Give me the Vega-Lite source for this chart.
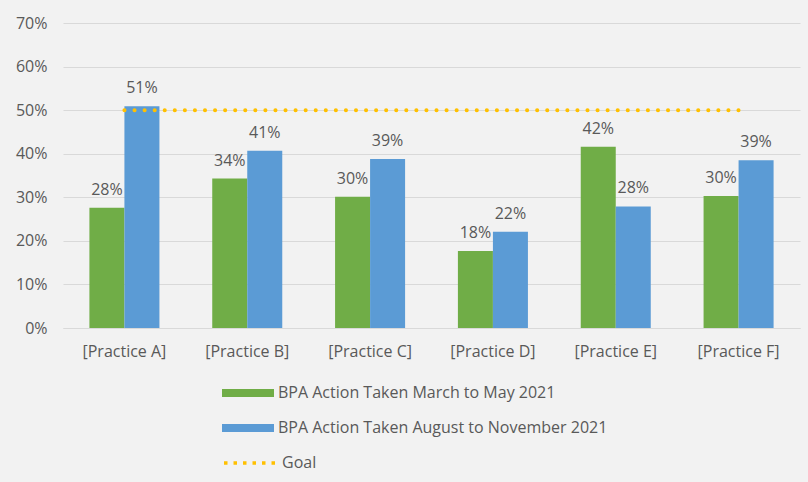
{
  "$schema": "https://vega.github.io/schema/vega-lite/v6.json",
  "width": 737,
  "height": 305,
  "autosize": {"type": "none"},
  "padding": {"left": 63, "top": 23, "right": 8, "bottom": 154},
  "background": "#F2F2F2",
  "config": {
    "view": {"stroke": null},
    "font": "Open Sans",
    "axis": {"labelColor": "#595959", "labelFont": "Open Sans", "labelFontSize": 16},
    "legend": {"labelColor": "#595959", "labelFont": "Open Sans", "labelFontSize": 16, "labelLimit": 500}
  },
  "datasets": {
    "bars": [
      {"practice": "[Practice A]", "series": "BPA Action Taken March to May 2021", "value": 0.276},
      {"practice": "[Practice A]", "series": "BPA Action Taken August to November 2021", "value": 0.509},
      {"practice": "[Practice B]", "series": "BPA Action Taken March to May 2021", "value": 0.343},
      {"practice": "[Practice B]", "series": "BPA Action Taken August to November 2021", "value": 0.407},
      {"practice": "[Practice C]", "series": "BPA Action Taken March to May 2021", "value": 0.301},
      {"practice": "[Practice C]", "series": "BPA Action Taken August to November 2021", "value": 0.388},
      {"practice": "[Practice D]", "series": "BPA Action Taken March to May 2021", "value": 0.177},
      {"practice": "[Practice D]", "series": "BPA Action Taken August to November 2021", "value": 0.221},
      {"practice": "[Practice E]", "series": "BPA Action Taken March to May 2021", "value": 0.416},
      {"practice": "[Practice E]", "series": "BPA Action Taken August to November 2021", "value": 0.279},
      {"practice": "[Practice F]", "series": "BPA Action Taken March to May 2021", "value": 0.303},
      {"practice": "[Practice F]", "series": "BPA Action Taken August to November 2021", "value": 0.385}
    ],
    "goal": [
      {"practice": "[Practice A]", "goal": 0.5, "label": "Goal"},
      {"practice": "[Practice B]", "goal": 0.5, "label": "Goal"},
      {"practice": "[Practice C]", "goal": 0.5, "label": "Goal"},
      {"practice": "[Practice D]", "goal": 0.5, "label": "Goal"},
      {"practice": "[Practice E]", "goal": 0.5, "label": "Goal"},
      {"practice": "[Practice F]", "goal": 0.5, "label": "Goal"}
    ]
  },
  "encoding": {
    "x": {
      "field": "practice", "type": "nominal", "sort": null,
      "scale": {"paddingInner": 0.43, "paddingOuter": 0.215},
      "axis": {"title": null, "labelAngle": 0, "ticks": false, "domainColor": "#D9D9D9", "domainWidth": 1, "labelPadding": 15}
    },
    "y": {
      "field": "value", "type": "quantitative",
      "scale": {"domain": [0, 0.7]},
      "axis": {"title": null, "format": ".0%", "values": [0, 0.1, 0.2, 0.3, 0.4, 0.5, 0.6, 0.7], "labelOverlap": false, "domain": false, "ticks": false, "gridColor": "#D9D9D9", "gridWidth": 1, "labelPadding": 16}
    }
  },
  "layer": [
    {
      "data": {"name": "bars"},
      "mark": {"type": "bar"},
      "encoding": {
        "xOffset": {"field": "series", "type": "nominal", "sort": ["BPA Action Taken March to May 2021", "BPA Action Taken August to November 2021"], "scale": {"paddingInner": 0, "paddingOuter": 0}},
        "fill": {
          "field": "series", "type": "nominal",
          "scale": {"domain": ["BPA Action Taken March to May 2021", "BPA Action Taken August to November 2021"], "range": ["#70AD47", "#5B9BD5"]},
          "legend": {"title": null, "orient": "none", "legendX": 159, "legendY": 344, "direction": "vertical", "symbolType": "M-1,-0.15H1V0.15H-1Z", "symbolSize": 2704, "symbolStrokeWidth": 0, "rowPadding": 1, "labelOffset": 4}
        }
      }
    },
    {
      "data": {"name": "bars"},
      "mark": {"type": "text", "baseline": "bottom", "dy": -10, "color": "#595959", "fontSize": 16},
      "encoding": {
        "xOffset": {"field": "series", "type": "nominal", "sort": ["BPA Action Taken March to May 2021", "BPA Action Taken August to November 2021"]},
        "text": {"field": "value", "type": "quantitative", "format": ".0%"}
      }
    },
    {
      "data": {"name": "goal"},
      "mark": {"type": "line", "strokeWidth": 4, "strokeDash": [0.1, 9.966], "strokeCap": "round"},
      "encoding": {
        "y": {"field": "goal", "type": "quantitative"},
        "stroke": {
          "field": "label", "type": "nominal",
          "scale": {"domain": ["Goal"], "range": ["#FFC000"]},
          "legend": {"title": null, "orient": "none", "legendX": 159, "legendY": 412, "symbolType": "stroke", "symbolSize": 2704, "symbolStrokeWidth": 3.5, "symbolDash": [3.5, 6], "labelOffset": 4}
        }
      }
    }
  ]
}
